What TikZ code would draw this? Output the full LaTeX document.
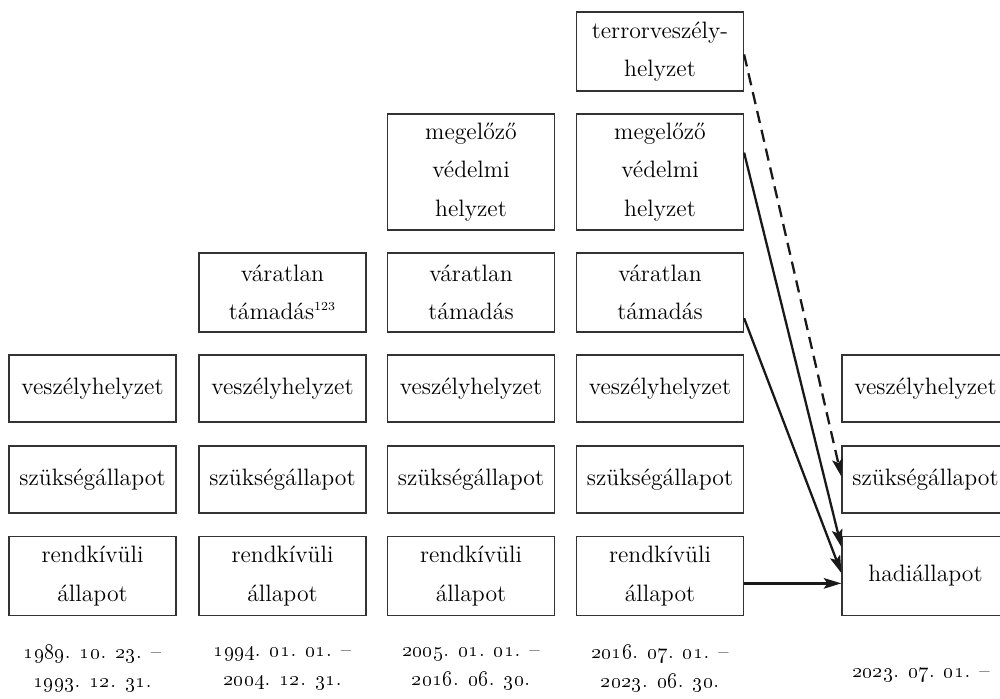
\documentclass[tikz,border=0pt]{standalone}
\usetikzlibrary{arrows.meta,positioning}
\newcommand{\osn}[1]{\oldstylenums{#1}}
\begin{document}
\begin{tikzpicture}[x=0.02cm, y=-0.02cm, line width=1.3pt,
  box/.style={draw=black!80, line width=0.7pt, align=center, minimum width=3.34cm, inner sep=2pt, font=\fontsize{13.5}{22}\selectfont},
  onerow/.style={box, minimum height=1.34cm},
  tworow/.style={box, minimum height=1.58cm},
  threerow/.style={box, minimum height=2.32cm},
  datum/.style={align=center, font=\fontsize{12}{16.5}\selectfont},
  arr/.style={-{Stealth[length=10pt,width=6pt,inset=2pt]}, black!90}]
\useasboundingbox (0,0) rectangle (1000,698);
% columns
\node[onerow] (vh1) at (92.5,388.5) {veszélyhelyzet};
\node[onerow] (sz1) at (92.5,479.5) {szükségállapot};
\node[tworow] (r1) at (92.5,576) {rendkívüli\\állapot};
\node[tworow] (va2) at (282.5,292.5) {váratlan\\támadás\textsuperscript{\scriptsize 123}};
\node[onerow] (vh2) at (282.5,388.5) {veszélyhelyzet};
\node[onerow] (sz2) at (282.5,479.5) {szükségállapot};
\node[tworow] (r2) at (282.5,576) {rendkívüli\\állapot};
\node[threerow] (m3) at (471,172) {megelőző\\védelmi\\helyzet};
\node[tworow] (va3) at (471,292.5) {váratlan\\támadás};
\node[onerow] (vh3) at (471,388.5) {veszélyhelyzet};
\node[onerow] (sz3) at (471,479.5) {szükségállapot};
\node[tworow] (r3) at (471,576) {rendkívüli\\állapot};
\node[tworow] (t4) at (660,51.5) {terrorveszély-\\helyzet};
\node[threerow] (m4) at (660,172) {megelőző\\védelmi\\helyzet};
\node[tworow] (va4) at (660,292.5) {váratlan\\támadás};
\node[onerow] (vh4) at (660,388.5) {veszélyhelyzet};
\node[onerow] (sz4) at (660,479.5) {szükségállapot};
\node[tworow] (r4) at (660,576) {rendkívüli\\állapot};
\node[onerow] (vh5) at (925.5,388.5) {veszélyhelyzet};
\node[onerow] (sz5) at (925.5,479.5) {szükségállapot};
\node[tworow] (h5) at (925.5,576) {hadiállapot};
% dates
\node[datum] (d1) at (92.5,668) {\osn{1989}. \osn{10}. \osn{23}. --\\\osn{1993}. \osn{12}. \osn{31}.};
\node[datum] (d2) at (282.5,668) {\osn{1994}. \osn{01}. \osn{01}. --\\\osn{2004}. \osn{12}. \osn{31}.};
\node[datum] (d3) at (471,668) {\osn{2005}. \osn{01}. \osn{01}. --\\\osn{2016}. \osn{06}. \osn{30}.};
\node[datum] (d4) at (660,668) {\osn{2016}. \osn{07}. \osn{01}. --\\\osn{2023}. \osn{06}. \osn{30}.};
\node[datum] (d5) at (921,675) {\osn{2023}. \osn{07}. \osn{01}. --};
% transitions
\draw[arr, dash pattern=on 7pt off 4pt] (t4.-2) -- (sz5.178);
\draw[arr] (m4.13) -- (h5.161);
\draw[arr] (va4.-17) -- (h5.178);
\draw[arr] (r4.-5) -- (h5.185);
\end{tikzpicture}
\end{document}
